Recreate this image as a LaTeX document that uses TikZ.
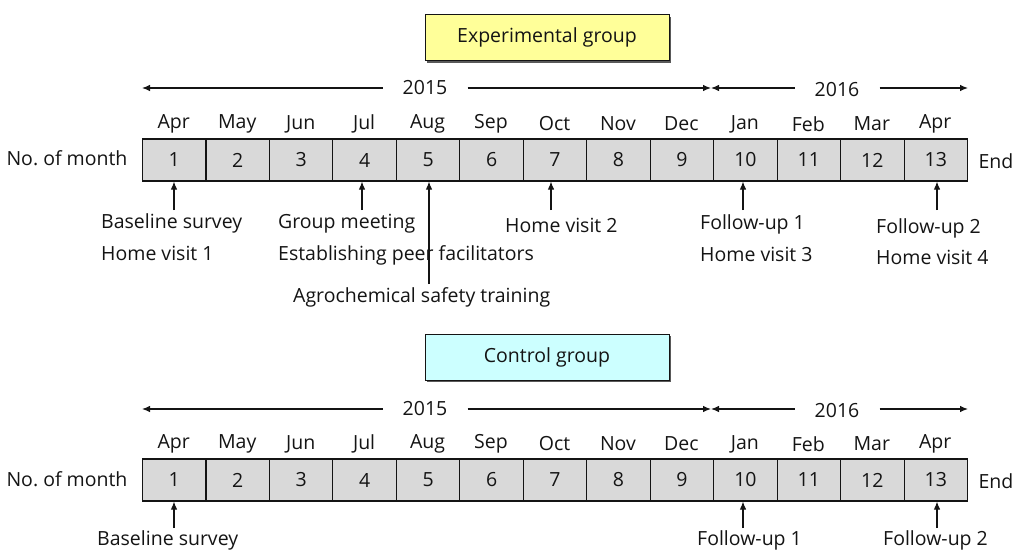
\documentclass[tikz,border=0pt]{standalone}
\usepackage{fontspec}
\setmainfont{Open Sans}
\usetikzlibrary{arrows.meta,shadows}
\definecolor{cellgray}{HTML}{D9D9D9}
\definecolor{expyellow}{HTML}{FFFF99}
\definecolor{ctlcyan}{HTML}{CCFFFF}
\definecolor{ink}{HTML}{141414}
\tikzset{
  every node/.style={text=ink, font=\fontsize{19.5}{22}\selectfont},
  cell/.style={draw=ink, line width=1.1pt, fill=cellgray, minimum width=63.46pt,
    minimum height=42pt, inner sep=0pt, anchor=west},
  groupbox/.style={draw=ink, line width=1pt, minimum width=244pt, minimum height=46pt,
    drop shadow={shadow xshift=2.2pt, shadow yshift=-2.2pt, fill=black!65, opacity=1}},
  yearlbl/.style={inner xsep=20pt},
  tip/.style={-{Latex[length=8pt,width=6.5pt]}, line width=1.1pt, draw=ink},
  evlbl/.style={anchor=base west, inner sep=0pt},
}
\begin{document}
\begin{tikzpicture}[x=1pt,y=-1pt]
\useasboundingbox (0,0) rectangle (1016,551);

% ---------- Experimental group ----------
\node[groupbox, fill=expyellow] (eg) at (547,37.5) {Experimental group};

\node[yearlbl] (ey1) at (425,88) {2015};
\node[yearlbl] (ey2) at (837,90) {2016};
\coordinate (eyl) at (142,88);
\coordinate (eym) at (711,88);
\coordinate (eyr) at (968,88);
\draw[tip] (ey1.west) -- (eyl);
\draw[tip] (ey1.east) -- (eym);
\draw[tip] (ey2.west |- eym) -- (eym);
\draw[tip] (ey2.east |- eyr) -- (eyr);

\foreach \m [count=\i] in {Apr,May,Jun,Jul,Aug,Sep,Oct,Nov,Dec,Jan,Feb,Mar,Apr}{
  \node[cell] (e\i) at ({142+(\i-1)*63.46},160) {\i};
  \node (em\i) at ({142+(\i-0.5)*63.46},124) {\m};
}
\node[anchor=east] (eno) at (131,158) {No.\ of month};
\node[anchor=west] (eend) at (975,161) {End};

% event labels
\node[evlbl] (eb1) at (101,228) {Baseline survey};
\node[evlbl] (eb2) at (101,260) {Home visit 1};
\node[evlbl] (eg1) at (278,228) {Group meeting};
\node[evlbl] (eg2) at (278,260) {Establishing peer facilitators};
\node[evlbl] (ea1) at (293,302) {Agrochemical safety training};
\node[evlbl] (eh2) at (505,232) {Home visit 2};
\node[evlbl] (ef1) at (700,229) {Follow-up 1};
\node[evlbl] (eh3) at (700,261) {Home visit 3};
\node[evlbl] (ef2) at (876,233) {Follow-up 2};
\node[evlbl] (eh4) at (876,264) {Home visit 4};

\coordinate (ep1) at (174,210);
\coordinate (ep4) at (362,210);
\coordinate (ep5) at (429,284);
\coordinate (ep7) at (551,210);
\coordinate (ep10) at (743,210);
\coordinate (ep13) at (937,210);
\draw[tip] (ep1) -- (ep1 |- e1.south);
\draw[tip] (ep4) -- (ep4 |- e4.south);
\draw[tip] (ep5) -- (ep5 |- e5.south);
\draw[tip] (ep7) -- (ep7 |- e7.south);
\draw[tip] (ep10) -- (ep10 |- e10.south);
\draw[tip] (ep13) -- (ep13 |- e13.south);

% ---------- Control group ----------
\node[groupbox, fill=ctlcyan] (cg) at (547,357) {Control group};

\node[yearlbl] (cy1) at (425,409) {2015};
\node[yearlbl] (cy2) at (837,411) {2016};
\coordinate (cyl) at (142,409);
\coordinate (cym) at (711,409);
\coordinate (cyr) at (968,409);
\draw[tip] (cy1.west) -- (cyl);
\draw[tip] (cy1.east) -- (cym);
\draw[tip] (cy2.west |- cym) -- (cym);
\draw[tip] (cy2.east |- cyr) -- (cyr);

\foreach \m [count=\i] in {Apr,May,Jun,Jul,Aug,Sep,Oct,Nov,Dec,Jan,Feb,Mar,Apr}{
  \node[cell] (c\i) at ({142+(\i-1)*63.46},480) {\i};
  \node (cm\i) at ({142+(\i-0.5)*63.46},444) {\m};
}
\node[anchor=east] (cno) at (131,479) {No.\ of month};
\node[anchor=west] (cend) at (975,481) {End};

\node[evlbl] (cb1) at (97,545.5) {Baseline survey};
\node[evlbl] (cf1) at (697,545.5) {Follow-up 1};
\node[evlbl] (cf2) at (883,545.5) {Follow-up 2};

\coordinate (cp1) at (174,528);
\coordinate (cp10) at (743,528);
\coordinate (cp13) at (937,528);
\draw[tip] (cp1) -- (cp1 |- c1.south);
\draw[tip] (cp10) -- (cp10 |- c10.south);
\draw[tip] (cp13) -- (cp13 |- c13.south);
\end{tikzpicture}
\end{document}
